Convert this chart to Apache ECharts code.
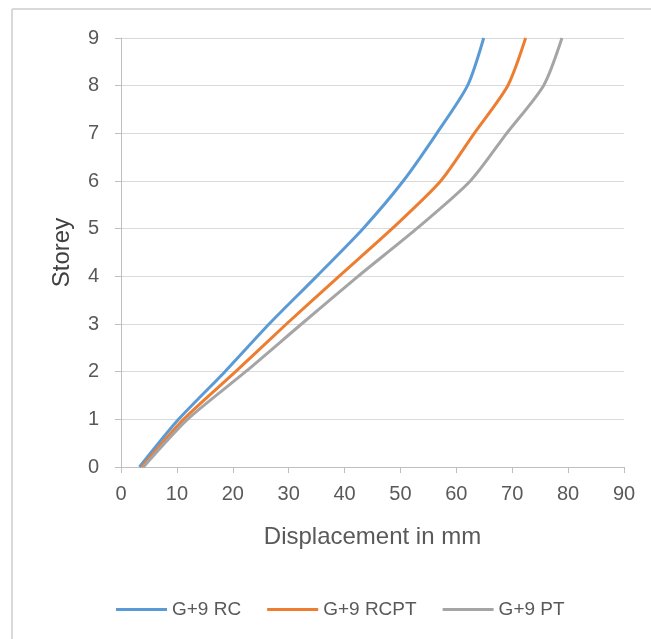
<!DOCTYPE html>
<html>
<head>
<meta charset="utf-8">
<title>Storey displacement</title>
<script src="https://cdn.jsdelivr.net/npm/echarts@6/dist/echarts.min.js"></script>
<style>
  html, body { margin: 0; padding: 0; background: #ffffff; }
  #chart { width: 651px; height: 639px; }
</style>
</head>
<body>
<div id="chart"></div>
<script>
// Storey levels (ground = 0)
var storeys = [0, 1, 2, 3, 4, 5, 6, 7, 8, 9];

// Lateral displacement (mm) at each storey
var dispRC   = [3.3, 10.3, 18.6, 26.5, 35.0, 43.3, 50.5, 56.5, 62.0, 64.9];
var dispRCPT = [3.7, 11.2, 20.5, 29.6, 39.0, 48.5, 57.2, 63.2, 69.2, 72.4];
var dispPT   = [4.0, 11.9, 22.3, 32.3, 42.4, 52.9, 62.5, 69.0, 75.6, 78.9];

var seriesNames = ['G+9 RC', 'G+9 RCPT', 'G+9 PT'];
var seriesColors = ['#5B9BD5', '#ED7D31', '#A5A5A5'];

function pairs(xs) {
  return xs.map(function (x, i) { return [x, storeys[i]]; });
}

var textColor = '#595959';
var fontFamily = 'Liberation Sans, Arial, sans-serif';

var chart = echarts.init(document.getElementById('chart'), null, { renderer: 'canvas' });

function lineSeries(i, values) {
  return {
    name: seriesNames[i],
    type: 'line',
    data: pairs(values),
    smooth: 0.25,
    showSymbol: false,
    symbol: 'none',
    lineStyle: { color: seriesColors[i], width: 3 },
    itemStyle: { color: seriesColors[i] }
  };
}

chart.setOption({
  backgroundColor: '#ffffff',
  animation: false,
  textStyle: { fontFamily: fontFamily },
  graphic: [
    { type: 'line', shape: { x1: 12, y1: 9, x2: 651, y2: 9 }, style: { stroke: '#d9d9d9', lineWidth: 2 } },
    { type: 'line', shape: { x1: 12, y1: 9, x2: 12, y2: 639 }, style: { stroke: '#d9d9d9', lineWidth: 2 } }
  ],
  grid: { left: 121, right: 27, top: 38, bottom: 172, containLabel: false },
  legend: {
    left: 111,
    top: 595,
    icon: 'rect',
    itemWidth: 51,
    itemHeight: 3,
    itemGap: 26,
    textStyle: { color: textColor, fontSize: 19, fontFamily: fontFamily },
    data: seriesNames
  },
  xAxis: {
    type: 'value',
    min: 0,
    max: 90,
    interval: 10,
    name: 'Displacement in mm',
    nameLocation: 'middle',
    nameGap: 58,
    nameTextStyle: { color: textColor, fontSize: 24, fontFamily: fontFamily },
    axisLine: { show: true, lineStyle: { color: '#bfbfbf', width: 1 } },
    axisTick: { show: true, length: 6, lineStyle: { color: '#bfbfbf' } },
    axisLabel: { color: textColor, fontSize: 20, margin: 17 },
    splitLine: { show: false }
  },
  yAxis: {
    type: 'value',
    min: 0,
    max: 9,
    interval: 1,
    name: 'Storey',
    nameLocation: 'middle',
    nameGap: 47,
    nameTextStyle: { color: '#404040', fontSize: 24, fontFamily: fontFamily },
    axisLine: { show: true, lineStyle: { color: '#bfbfbf', width: 1 } },
    axisTick: { show: true, length: 6, lineStyle: { color: '#bfbfbf' } },
    axisLabel: { color: textColor, fontSize: 20, margin: 22 },
    splitLine: { show: true, lineStyle: { color: '#d9d9d9', width: 1 } }
  },
  series: [
    lineSeries(0, dispRC),
    lineSeries(1, dispRCPT),
    lineSeries(2, dispPT)
  ]
});
</script>
</body>
</html>
